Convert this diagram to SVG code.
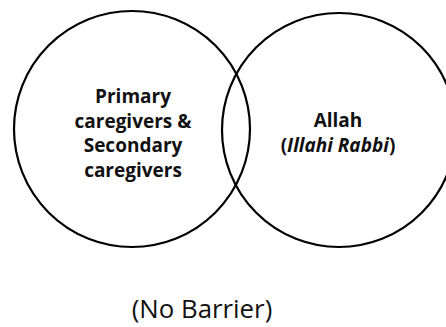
<svg xmlns="http://www.w3.org/2000/svg" width="446" height="327" viewBox="0 0 446 327">
<style>
.c{fill:none;stroke:#000;stroke-width:2.2}
.t{font-family:"Open Sans","Liberation Sans",sans-serif;font-weight:bold;font-size:19px;text-anchor:middle;fill:#111}
.b{font-family:"Open Sans","Liberation Sans",sans-serif;font-size:25.8px;text-anchor:middle;fill:#111}
</style>
<rect width="446" height="327" fill="#fff"/>
<g id="caregivers">
<circle class="c" cx="132" cy="129" r="118"/>
<text class="t" x="133" y="103">Primary</text>
<text class="t" x="133" y="127.5">caregivers &amp;</text>
<text class="t" x="133" y="152">Secondary</text>
<text class="t" x="133" y="176.5">caregivers</text>
</g>
<g id="allah">
<circle class="c" cx="339" cy="130" r="117"/>
<text class="t" x="338" y="127">Allah</text>
<text class="t" x="338" y="152">(<tspan font-style="italic">Illahi Rabbi</tspan>)</text>
</g>
<g id="connectors"></g>
<text class="b" x="202" y="318">(No Barrier)</text>
</svg>
